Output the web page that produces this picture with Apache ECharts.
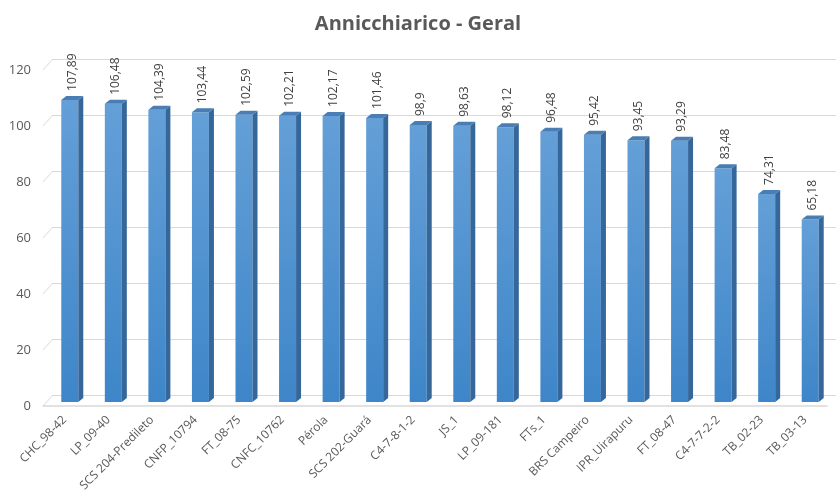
<!DOCTYPE html>
<html>
<head>
<meta charset="utf-8">
<script src="https://cdn.jsdelivr.net/npm/echarts@6/dist/echarts.min.js"></script>
<style>
  html, body { margin: 0; padding: 0; background: #fff; }
  #chart { width: 836px; height: 492px; }
</style>
</head>
<body>
<div id="chart"></div>
<script>
// dados
const categories = ['CHC_98-42', 'LP_09-40', 'SCS 204-Predileto', 'CNFP_10794', 'FT_08-75', 'CNFC_10762',
  'Pérola', 'SCS 202-Guará', 'C4-7-8-1-2', 'JS_1', 'LP_09-181', 'FTs_1', 'BRS Campeiro',
  'IPR_Uirapuru', 'FT_08-47', 'C4-7-7-2-2', 'TB_02-23', 'TB_03-13'];
const values = [107.89, 106.48, 104.39, 103.44, 102.59, 102.21, 102.17, 101.46, 98.9, 98.63,
  98.12, 96.48, 95.42, 93.45, 93.29, 83.48, 74.31, 65.18];
const yTicks = [0, 20, 40, 60, 80, 100, 120];

const chart = echarts.init(document.getElementById('chart'));

const textColor = '#595959';
const gridColor = '#d9d9d9';
const depthX = 10, depthY = 11; // profundidade do "piso" 3D

// desenha uma barra 3D (frente, lado e topo)
const renderBar = (params, api) => {
  const top = api.coord([api.value(0), api.value(1)]);
  const base = api.coord([api.value(0), 0]);
  const w = 17, dx = 5, dy = 4;
  const x0 = top[0] - w / 2;
  const yt = top[1], yb = base[1];
  const label = String(api.value(1)).replace('.', ',');
  return {
    type: 'group',
    children: [
      {
        type: 'rect',
        shape: { x: x0, y: yt, width: w, height: yb - yt },
        style: {
          fill: new echarts.graphic.LinearGradient(0, 0, 0, 1, [
            { offset: 0, color: '#649fd7' },
            { offset: 1, color: '#3e86c9' }
          ])
        }
      },
      {
        type: 'polygon',
        shape: { points: [[x0 + w, yt], [x0 + w + dx, yt - dy], [x0 + w + dx, yb - dy], [x0 + w, yb]] },
        style: { fill: '#36679a' }
      },
      {
        type: 'polygon',
        shape: { points: [[x0, yt], [x0 + w, yt], [x0 + w + dx, yt - dy], [x0 + dx, yt - dy]] },
        style: { fill: '#4a7db3' }
      },
      {
        type: 'text',
        x: x0 + (w + dx) / 2,
        y: yt - dy - 5,
        rotation: Math.PI / 2,
        style: {
          text: label,
          fill: '#404040',
          font: '12px "Open Sans", sans-serif',
          align: 'left',
          verticalAlign: 'middle'
        }
      }
    ]
  };
};

// linhas diagonais do piso à parede do fundo
const renderDepth = (params, api) => {
  const p = api.coord([0, api.value(0)]);
  const left = params.coordSys.x;
  return {
    type: 'line',
    shape: { x1: left, y1: p[1], x2: left - depthX, y2: p[1] + depthY },
    style: { stroke: gridColor, lineWidth: 1 }
  };
};

const option = {
  animation: false,
  title: {
    text: 'Annicchiarico - Geral',
    left: 'center',
    top: 9,
    textStyle: {
      color: textColor,
      fontSize: 20,
      fontWeight: 'bold',
      fontFamily: '"Open Sans", sans-serif'
    }
  },
  grid: [
    // parede do fundo
    { left: 53, right: 0, top: 59, bottom: 97, outerBoundsMode: 'none' },
    // plano da frente (rótulos)
    { left: 43, right: 9, top: 70, bottom: 86, outerBoundsMode: 'none' },
    // barras (meio da profundidade)
    { left: 48, right: 4, top: 66, bottom: 90, outerBoundsMode: 'none' }
  ],
  xAxis: [
    {
      gridIndex: 0, type: 'category', data: categories,
      axisLine: { show: false }, axisTick: { show: false }, axisLabel: { show: false }
    },
    {
      gridIndex: 1, type: 'category', data: categories,
      axisLine: { show: true, lineStyle: { color: gridColor, width: 1.5 } },
      axisTick: { show: false },
      axisLabel: {
        interval: 0, rotate: 45, margin: 12,
        color: textColor, fontSize: 12, fontFamily: '"Open Sans", sans-serif'
      }
    },
    {
      gridIndex: 2, type: 'category', data: categories,
      axisLine: { show: false }, axisTick: { show: false }, axisLabel: { show: false }
    }
  ],
  yAxis: [
    {
      gridIndex: 0, type: 'value', min: 0, max: 120, interval: 20,
      axisLine: { show: false }, axisTick: { show: false }, axisLabel: { show: false },
      splitLine: { show: true, lineStyle: { color: gridColor, width: 1 } }
    },
    {
      gridIndex: 1, type: 'value', min: 0, max: 120, interval: 20,
      axisLine: { show: false }, axisTick: { show: false },
      splitLine: { show: false },
      axisLabel: { margin: 12, color: textColor, fontSize: 13, fontFamily: '"Open Sans", sans-serif' }
    },
    {
      gridIndex: 2, type: 'value', min: 0, max: 120, interval: 20,
      axisLine: { show: false }, axisTick: { show: false }, axisLabel: { show: false },
      splitLine: { show: false }
    }
  ],
  series: [
    {
      type: 'custom',
      xAxisIndex: 0,
      yAxisIndex: 0,
      renderItem: renderDepth,
      data: yTicks.map(v => [v]),
      encode: { y: 0 },
      silent: true,
      z: 1
    },
    {
      type: 'custom',
      xAxisIndex: 2,
      yAxisIndex: 2,
      renderItem: renderBar,
      data: values.map((v, i) => [i, v]),
      encode: { x: 0, y: 1 },
      z: 5
    }
  ]
};

chart.setOption(option);
</script>
</body>
</html>
